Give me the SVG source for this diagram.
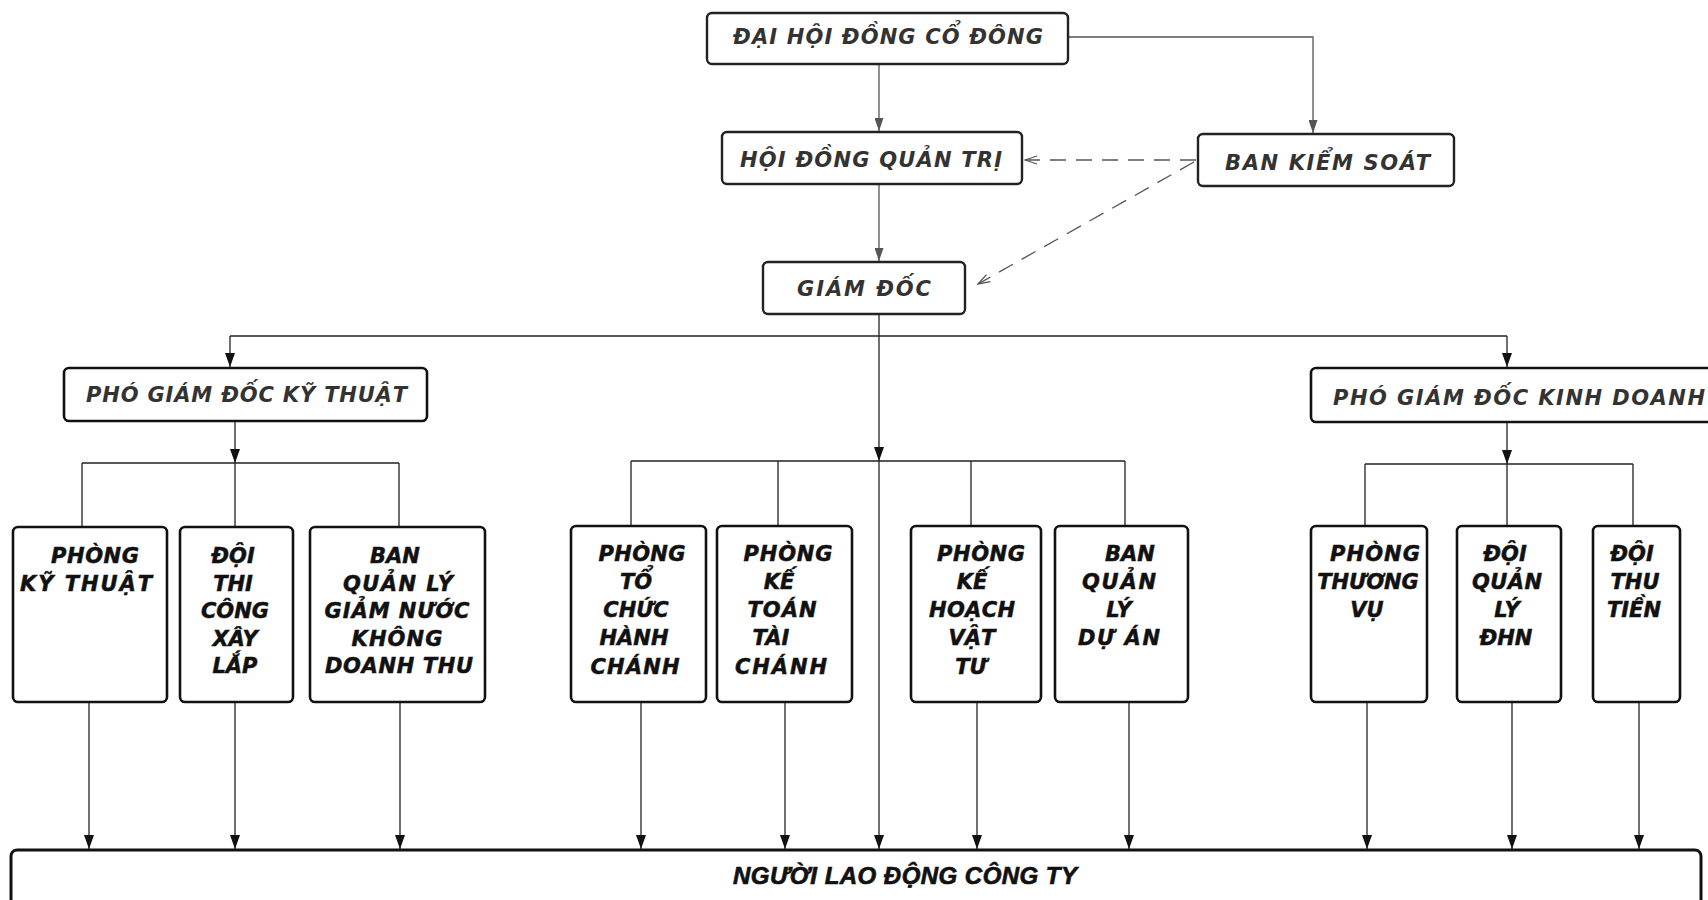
<svg xmlns="http://www.w3.org/2000/svg" width="1708" height="900" viewBox="0 0 1708 900">
<defs>
<style>
.box{fill:#fff;stroke:#111;stroke-width:2.6}
.top{fill:#fff;stroke:#222;stroke-width:2.4}
.t{font-family:'DejaVu Sans','Liberation Sans',sans-serif;font-weight:bold;font-style:italic;font-size:21px;fill:#111;stroke:#111;stroke-width:0.5;text-anchor:middle}
.h{font-family:'DejaVu Sans','Liberation Sans',sans-serif;font-weight:bold;font-style:italic;font-size:21px;fill:#333}
.c{stroke:#222;stroke-width:1.3;fill:none}
.g{stroke:#555;stroke-width:1.3;fill:none}
.d{stroke:#555;stroke-width:1.3;fill:none;stroke-dasharray:16 10}
</style>
<marker id="ar" markerUnits="userSpaceOnUse" markerWidth="14" markerHeight="10" refX="14" refY="5" orient="auto">
<path d="M0,0 L14,5 L0,10 z" fill="#111"/>
</marker>
<marker id="ag" markerUnits="userSpaceOnUse" markerWidth="13" markerHeight="9" refX="13" refY="4.5" orient="auto">
<path d="M0,0 L13,4.5 L0,9 z" fill="#555"/>
</marker>
<marker id="ao" markerUnits="userSpaceOnUse" markerWidth="14" markerHeight="10" refX="13" refY="5" orient="auto">
<path d="M1,1 L13,5 L1,9" fill="none" stroke="#555" stroke-width="1.3"/>
</marker>
</defs>
<rect width="1708" height="900" fill="#fff"/>

<g id="connectors">
<path class="g" d="M879,64 V131" marker-end="url(#ag)"/>
<path class="g" d="M1068,37 H1313 V133" marker-end="url(#ag)"/>
<path class="g" d="M879,184 V261" marker-end="url(#ag)"/>
<path class="d" d="M1196,160 H1025" marker-end="url(#ao)"/>
<path class="d" d="M1194,162 L978,284" marker-end="url(#ao)"/>
<path class="c" d="M879,314 V336"/>
<path class="c" d="M230,336 H1507"/>
<path class="c" d="M230,336 V367" marker-end="url(#ar)"/>
<path class="c" d="M1507,336 V367" marker-end="url(#ar)"/>
<path class="c" d="M879,336 V461" marker-end="url(#ar)"/>
<path class="c" d="M879,461 V849" marker-end="url(#ar)"/>
<path class="c" d="M631,461 H1125 M631,461 V526 M778,461 V526 M971,461 V526 M1125,461 V526"/>
<path class="c" d="M235,421 V463" marker-end="url(#ar)"/>
<path class="c" d="M82,463 H399 M82,463 V527 M235,463 V527 M399,463 V527"/>
<path class="c" d="M1507,422 V464" marker-end="url(#ar)"/>
<path class="c" d="M1365,464 H1633 M1365,464 V526 M1507,464 V526 M1633,464 V526"/>
<path class="c" d="M89,702 V849" marker-end="url(#ar)"/>
<path class="c" d="M235,702 V849" marker-end="url(#ar)"/>
<path class="c" d="M400,702 V849" marker-end="url(#ar)"/>
<path class="c" d="M641,702 V849" marker-end="url(#ar)"/>
<path class="c" d="M785,702 V849" marker-end="url(#ar)"/>
<path class="c" d="M977,702 V849" marker-end="url(#ar)"/>
<path class="c" d="M1129,702 V849" marker-end="url(#ar)"/>
<path class="c" d="M1367,702 V849" marker-end="url(#ar)"/>
<path class="c" d="M1512,702 V849" marker-end="url(#ar)"/>
<path class="c" d="M1639,702 V849" marker-end="url(#ar)"/>
</g>

<g id="dai-hoi-dong-co-dong">
<rect class="top" x="707" y="13" width="361" height="51" rx="5"/>
<text class="h" x="733" y="44" font-size="18" fill="#555" textLength="310" lengthAdjust="spacing">ĐẠI HỘI ĐỒNG CỔ ĐÔNG</text>
</g>
<g id="hoi-dong-quan-tri">
<rect class="top" x="722" y="132" width="300" height="52" rx="5"/>
<text class="h" x="740" y="167" font-size="22" textLength="262" lengthAdjust="spacing">HỘI ĐỒNG QUẢN TRỊ</text>
</g>
<g id="ban-kiem-soat">
<rect class="top" x="1198" y="134" width="256" height="52" rx="5"/>
<text class="h" x="1225" y="170" font-size="20.5" textLength="205" lengthAdjust="spacing">BAN KIỂM SOÁT</text>
</g>
<g id="giam-doc">
<rect class="top" x="763" y="262" width="202" height="52" rx="5"/>
<text class="h" x="797" y="296" font-size="22" textLength="134" lengthAdjust="spacing">GIÁM ĐỐC</text>
</g>
<g id="pho-giam-doc-ky-thuat">
<rect class="box" x="64" y="368" width="363" height="53" rx="5"/>
<text class="h" x="86" y="402" textLength="321" lengthAdjust="spacing">PHÓ GIÁM ĐỐC KỸ THUẬT</text>
</g>
<g id="pho-giam-doc-kinh-doanh">
<rect class="box" x="1311" y="368" width="410" height="54" rx="5"/>
<text class="h" x="1333" y="405" textLength="372" lengthAdjust="spacing">PHÓ GIÁM ĐỐC KINH DOANH</text>
</g>

<g id="phong-ky-thuat">
<rect class="box" x="13" y="527" width="154" height="175" rx="5"/>
<text class="t" x="95" y="563" textLength="88" lengthAdjust="spacing">PHÒNG</text>
<text class="t" x="86" y="591" textLength="132" lengthAdjust="spacing">KỸ THUẬT</text>
</g>
<g id="doi-thi-cong-xay-lap">
<rect class="box" x="180" y="527" width="113" height="175" rx="5"/>
<text class="t" x="233" y="563">ĐỘI</text>
<text class="t" x="233" y="591">THI</text>
<text class="t" x="235" y="618">CÔNG</text>
<text class="t" x="235" y="646">XÂY</text>
<text class="t" x="235" y="673">LẮP</text>
</g>
<g id="ban-quan-ly-giam-nuoc">
<rect class="box" x="310" y="527" width="175" height="175" rx="5"/>
<text class="t" x="395" y="563">BAN</text>
<text class="t" x="398" y="591" textLength="110" lengthAdjust="spacing">QUẢN LÝ</text>
<text class="t" x="397" y="618" textLength="145" lengthAdjust="spacing">GIẢM NƯỚC</text>
<text class="t" x="397" y="646" textLength="91" lengthAdjust="spacing">KHÔNG</text>
<text class="t" x="399" y="673" textLength="148" lengthAdjust="spacing">DOANH THU</text>
</g>

<g id="phong-to-chuc-hanh-chanh">
<rect class="box" x="571" y="526" width="135" height="176" rx="5"/>
<text class="t" x="642" y="561" textLength="87" lengthAdjust="spacing">PHÒNG</text>
<text class="t" x="636" y="589">TỔ</text>
<text class="t" x="636" y="617">CHỨC</text>
<text class="t" x="634" y="645">HÀNH</text>
<text class="t" x="635" y="674" textLength="89" lengthAdjust="spacing">CHÁNH</text>
</g>
<g id="phong-ke-toan-tai-chanh">
<rect class="box" x="717" y="526" width="135" height="176" rx="5"/>
<text class="t" x="788" y="561" textLength="89" lengthAdjust="spacing">PHÒNG</text>
<text class="t" x="779" y="589">KẾ</text>
<text class="t" x="782" y="617" textLength="69" lengthAdjust="spacing">TOÁN</text>
<text class="t" x="771" y="645">TÀI</text>
<text class="t" x="781" y="674" textLength="92" lengthAdjust="spacing">CHÁNH</text>
</g>
<g id="phong-ke-hoach-vat-tu">
<rect class="box" x="911" y="526" width="130" height="176" rx="5"/>
<text class="t" x="981" y="561" textLength="88" lengthAdjust="spacing">PHÒNG</text>
<text class="t" x="972" y="589">KẾ</text>
<text class="t" x="972" y="617" textLength="86" lengthAdjust="spacing">HOẠCH</text>
<text class="t" x="972" y="645">VẬT</text>
<text class="t" x="971" y="674">TƯ</text>
</g>
<g id="ban-quan-ly-du-an">
<rect class="box" x="1055" y="526" width="133" height="176" rx="5"/>
<text class="t" x="1130" y="561">BAN</text>
<text class="t" x="1119" y="589" textLength="74" lengthAdjust="spacing">QUẢN</text>
<text class="t" x="1119" y="617">LÝ</text>
<text class="t" x="1119" y="645" textLength="82" lengthAdjust="spacing">DỰ ÁN</text>
</g>

<g id="phong-thuong-vu">
<rect class="box" x="1311" y="526" width="116" height="176" rx="5"/>
<text class="t" x="1375" y="561" textLength="90" lengthAdjust="spacing">PHÒNG</text>
<text class="t" x="1368" y="589">THƯƠNG</text>
<text class="t" x="1367" y="617">VỤ</text>
</g>
<g id="doi-quan-ly-dhn">
<rect class="box" x="1457" y="526" width="104" height="176" rx="5"/>
<text class="t" x="1505" y="561">ĐỘI</text>
<text class="t" x="1507" y="589" textLength="70" lengthAdjust="spacing">QUẢN</text>
<text class="t" x="1507" y="617">LÝ</text>
<text class="t" x="1506" y="645">ĐHN</text>
</g>
<g id="doi-thu-tien">
<rect class="box" x="1593" y="526" width="87" height="176" rx="5"/>
<text class="t" x="1632" y="561">ĐỘI</text>
<text class="t" x="1635" y="589">THU</text>
<text class="t" x="1634" y="617">TIỀN</text>
</g>

<g id="nguoi-lao-dong-cong-ty">
<rect x="11" y="850" width="1690" height="80" rx="6" fill="#fff" stroke="#111" stroke-width="3"/>
<text x="733" y="884" font-family="'Liberation Sans',Arial,sans-serif" font-weight="bold" font-style="italic" font-size="24" fill="#111" stroke="#111" stroke-width="0.7" textLength="344" lengthAdjust="spacing">NGƯỜI LAO ĐỘNG CÔNG TY</text>
</g>
</svg>
